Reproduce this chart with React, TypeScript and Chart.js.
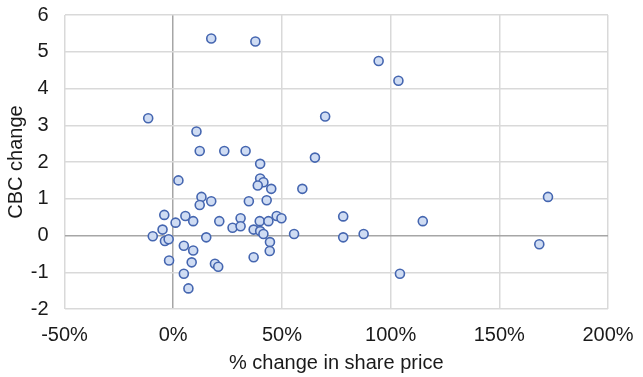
import React, { useEffect, useRef } from "react";
import { Chart, registerables } from "chart.js";

Chart.register(...registerables);

const shareChange: number[] = [
  17.5, 37.8, 94.5, 103.6, -11.5, 69.9, 10.7, 12.2, 23.5, 33.3,
  65.2, 40.0, 2.4, 40.0, 41.5, 38.9, 45.1, 59.4, 13.0, 172.4,
  17.5, 34.8, 43.0, 12.2, -4.1, 5.6, 9.2, 1.1, 21.2, 31.0,
  39.8, 43.8, 47.6, 49.8, 78.2, 114.8, -4.9, 27.3, 31.0, 37.0,
  40.0, 41.5, -9.4, 55.6, 87.6, 78.2, 15.2, -3.8, -2.1, 4.9,
  44.5, 168.4, 9.2, 44.4, 37.0, -1.9, 8.5, 19.2, 20.7, 4.9,
  104.3, 7.0,
];

const cbcChange: number[] = [
  5.36, 5.28, 4.75, 4.21, 3.19, 3.24, 2.83, 2.30, 2.30, 2.30,
  2.12, 1.95, 1.50, 1.55, 1.45, 1.36, 1.27, 1.27, 1.05, 1.05,
  0.93, 0.93, 0.96, 0.83, 0.56, 0.53, 0.39, 0.35, 0.39, 0.47,
  0.39, 0.39, 0.53, 0.47, 0.52, 0.39, 0.16, 0.21, 0.25, 0.16,
  0.12, 0.04, -0.02, 0.04, 0.04, -0.05, -0.05, -0.15, -0.10, -0.28,
  -0.18, -0.24, -0.41, -0.42, -0.59, -0.68, -0.73, -0.77, -0.85, -1.04,
  -1.04, -1.44,
];

const xTitle = "% change in share price";
const yTitle = "CBC change";
const xMin = -50;
const xMax = 200;
const xStep = 50;
const yMin = -2;
const yMax = 6;
const yStep = 1;

export default function App() {
  const ref = useRef<HTMLCanvasElement | null>(null);

  useEffect(() => {
    if (!ref.current) return;
    const font = { family: "'Liberation Sans', Arial, sans-serif", size: 20 };
    const gridColor = (ctx: any) =>
      ctx.tick && ctx.tick.value === 0 ? "#a6a6a6" : "#d9d9d9";
    const chart = new Chart(ref.current, {
      type: "scatter",
      data: {
        datasets: [
          {
            data: shareChange.map((x, i) => ({ x, y: cbcChange[i] })),
            backgroundColor: "#cfdcf3",
            borderColor: "#4566b0",
            borderWidth: 1.6,
            pointRadius: 4.5,
            pointHoverRadius: 4.5,
          },
        ],
      },
      options: {
        animation: false,
        responsive: false,
        maintainAspectRatio: false,
        layout: { padding: { left: 0, right: 35, top: 15, bottom: 0 } },
        plugins: { legend: { display: false }, tooltip: { enabled: false } },
        scales: {
          x: {
            type: "linear",
            min: xMin,
            max: xMax,
            afterFit: (s: any) => {
              s.height = 68;
              s.paddingLeft = 0;
              s.paddingRight = 0;
            },
            ticks: {
              stepSize: xStep,
              font,
              color: "#1a1a1a",
              padding: 14,
              maxRotation: 0,
              callback: (v: any) => `${v}%`,
            },
            grid: { color: gridColor, lineWidth: 1.5, drawTicks: false },
            border: { display: false },
            title: {
              display: true,
              text: xTitle,
              font,
              color: "#1a1a1a",
              padding: { top: 0, bottom: 2 },
            },
          },
          y: {
            type: "linear",
            min: yMin,
            max: yMax,
            afterFit: (s: any) => {
              s.width = 64.5;
              s.paddingTop = 0;
              s.paddingBottom = 0;
            },
            ticks: {
              stepSize: yStep,
              font,
              color: "#1a1a1a",
              padding: 16,
            },
            grid: { color: gridColor, lineWidth: 1.5, drawTicks: false },
            border: { display: false },
            title: {
              display: true,
              text: yTitle,
              font,
              color: "#1a1a1a",
              padding: { top: 4, bottom: 0 },
            },
          },
        },
      },
    });
    return () => chart.destroy();
  }, []);

  return (
    <div
      style={{
        position: "fixed",
        left: 0,
        top: 0,
        width: 643,
        height: 377,
        background: "#ffffff",
      }}
    >
      <canvas ref={ref} width={643} height={377} style={{ width: 643, height: 377 }} />
    </div>
  );
}
